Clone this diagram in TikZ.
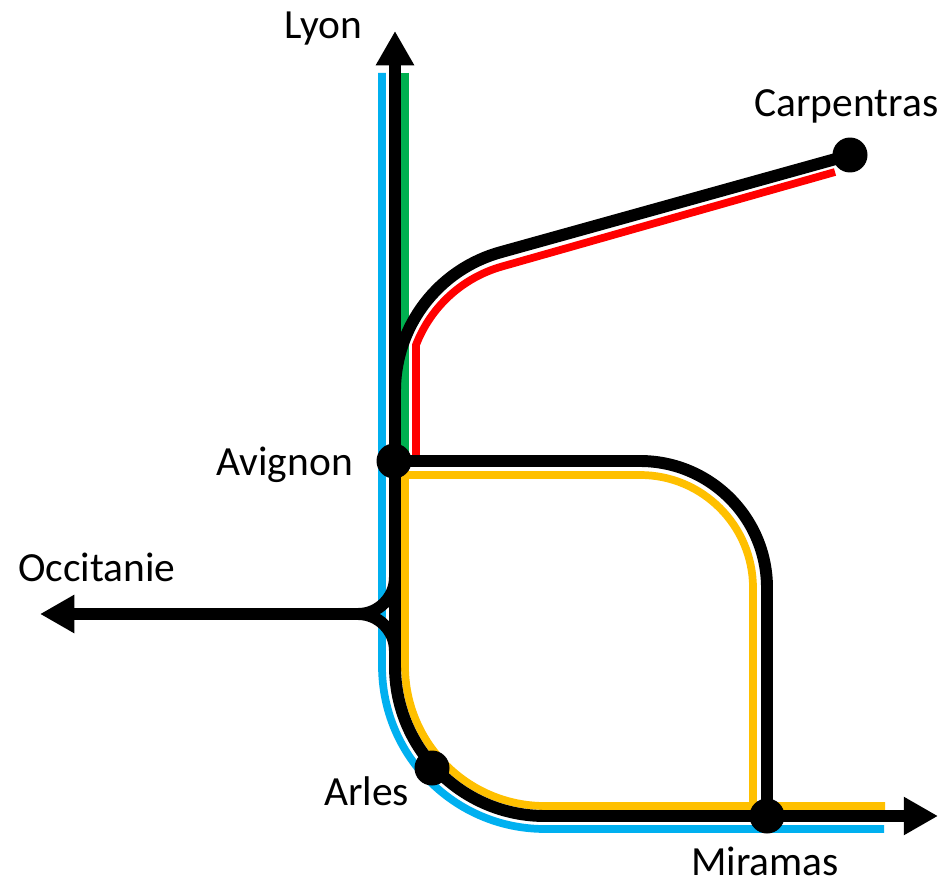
\documentclass[tikz,border=0pt]{standalone}
\usepackage{fontspec}
\setmainfont{Carlito}
\usetikzlibrary{arrows.meta, positioning, calc}
\definecolor{lineblue}{RGB}{0, 176, 240}
\definecolor{linegreen}{RGB}{0, 176, 80}
\definecolor{linered}{RGB}{255, 0, 0}
\definecolor{lineyellow}{RGB}{255, 192, 0}

\begin{document}
\begin{tikzpicture}[x=0.02cm, y=-0.02cm,
  trk/.style={line width=6.8pt, draw=black},
  svc/.style={line width=4.4pt, draw=#1},
  tip/.style={-{Triangle[length=19.5pt, width=20.5pt]}},
  stn/.style={circle, fill=black, minimum size=0.7cm, inner sep=0pt},
  lbl/.style={anchor=base west, inner sep=0pt, font=\fontsize{23.6}{28}\selectfont},
]
  \useasboundingbox (0,0) rectangle (946,885);
  % stations and line ends
  \coordinate (avignon) at (394,461);
  \coordinate (arles) at (432,768);
  \coordinate (miramas) at (767,816);
  \coordinate (carpentras) at (850,155);
  \coordinate (lyon) at (395,31);
  \coordinate (occitanie) at (40,614);
  \coordinate (east) at (938,816);
  % coloured services
  \draw[svc=lineblue] (382,73) -- (382,666) arc[start angle=180, end angle=90, radius=163] -- (884,829);
  \draw[svc=linegreen] (405,73) -- (405,461);
  \draw[svc=linered] (416,461) -- (416,345) arc[start angle=201, end angle=254.5, radius=130] -- (835,172);
  \draw[svc=lineyellow] (885,806) -- (545,806) arc[start angle=90, end angle=180, radius=140]
    -- (405,475) -- (640,475) arc[start angle=-90, end angle=0, radius=113] -- (753,806);
  % black tracks
  \draw[trk, {Triangle[length=19.5pt, width=20.5pt]}-{Triangle[length=19.5pt, width=20.5pt]}]
    (lyon) -- (395,666) arc[start angle=180, end angle=90, radius=150] -- (east);
  \draw[trk] (avignon) -- (640,461) arc[start angle=-90, end angle=0, radius=127] -- (miramas);
  \draw[trk] (395,391) arc[start angle=180, end angle=254.5, radius=144] -- (carpentras);
  \draw[trk, tip] (395,577) arc[start angle=0, end angle=90, radius=37] -- (occitanie);
  \draw[trk] (395,651) arc[start angle=0, end angle=-90, radius=37];
  % station dots
  \node[stn] (avg) at (avignon) {};
  \node[stn] (arl) at (arles) {};
  \node[stn] (mir) at (miramas) {};
  \node[stn] (car) at (carpentras) {};
  % names
  \node[lbl] (lyonlbl) at (284,39) {Lyon};
  \node[lbl] (carlbl) at (754,117) {Carpentras};
  \node[lbl] (avglbl) at (216,475) {Avignon};
  \node[lbl] (occlbl) at (18,581) {Occitanie};
  \node[lbl] (arllbl) at (324,805) {Arles};
  \node[lbl] (mirlbl) at (691,875) {Miramas};
\end{tikzpicture}
\end{document}
